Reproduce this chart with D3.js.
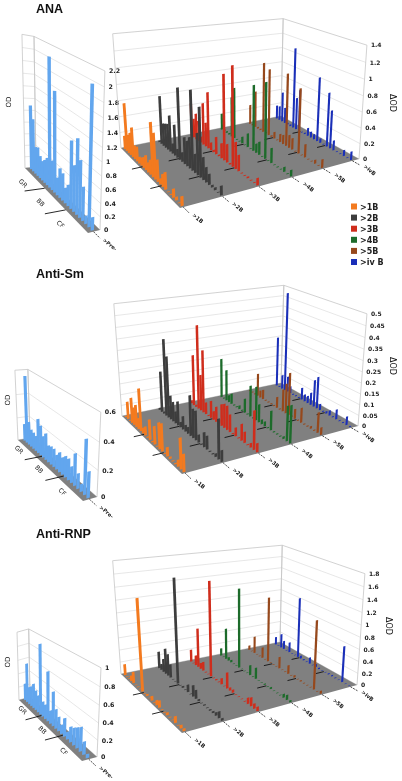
<!DOCTYPE html>
<html><head><meta charset="utf-8"><script src="https://cdn.jsdelivr.net/npm/d3@7"></script>
<style>html,body{margin:0;background:#fff}svg{display:block;filter:blur(.35px)}</style></head>
<body><svg id="c" width="402" height="781"></svg>
<script>
const seriesNames=[">1B",">2B",">3B",">4B",">5B",">ivB"];
const legendNames=[">1B",">2B",">3B",">4B",">5B",">iv B"];
const seriesColors=["#f37a1f","#3d3d3d","#cf2d1c","#1d6b2b","#96481c","#1a2fb8"];
const leftColor="#62a6ee";
const groupNames=["GR","BB","CF"];
const preName=">Pre-";

const anaTicks=[0,.2,.4,.6,.8,1,1.2,1.4];
const anaLeftTicks=[0,.2,.4,.6,.8,1,1.2,1.4,1.6,1.8,2,2.2];
const smTicks=[0,.05,.1,.15,.2,.25,.3,.35,.4,.45,.5];
const smLeftTicks=[0,.2,.4,.6];
const rnpTicks=[0,.2,.4,.6,.8,1,1.2,1.4,1.6,1.8];
const rnpLeftTicks=[0,.2,.4,.6,.8,1];

const anaPre=[1.1,.9,.46,.49,.38,.33,.39,.46,2.05,.49,1.6,.29,.48,.44,.25,.34,1.05,.72,1.15,.87,.52,.13,2.0,.2];
const ana1B=[.17,.6,.23,.28,.37,.17,.18,.08,.1,.13,.18,.12,.18,.64,.54,.26,.07,.15,.2,.01,.01,.1,.04,.01,.11];
const ana2B=[.02,.62,.29,.31,.33,.46,.13,.39,.11,.88,.12,.33,.31,.38,.95,.23,.5,.82,.27,.18,.13,.03,.03,.01,.11];
const ana3B=[.44,.25,.34,.27,.08,.54,.31,.72,.1,.03,.22,.02,.19,1.05,.23,.02,1.2,.33,.2,.01,.01,.02,.01,.01,.09];
const ana4B=[.22,.02,.02,.02,.53,.67,.01,.01,.09,.01,.18,.01,.84,.12,.17,.01,.95,.01,.19,.01,.01,.01,.06,.01,.08];
const ana5B=[.27,.02,.5,.02,.02,.94,.02,.89,.02,.09,.01,.11,.12,.94,.17,.15,.01,.83,.01,.17,.01,.01,.05,.01,.11];
const anaIvB=[.19,.2,.42,.22,.02,.02,1.1,.44,.57,.01,.02,.11,.08,.07,.85,.06,.01,.71,.5,.13,.01,.01,.08,.01,.11];

const smPre=[.15,.57,.2,.15,.14,.13,.29,.25,.18,.22,.14,.15,.15,.12,.16,.14,.17,.17,.13,.25,.12,.06,.41,.2];
const sm1B=[.005,.08,.005,.115,.08,.1,.05,.19,.025,.04,.005,.09,.005,.08,.005,.115,.12,.005,.04,.01,.005,.005,.03,.13,.075];
const sm2B=[.01,.19,.01,.35,.28,.11,.09,.055,.11,.025,.06,.03,.03,.18,.13,.13,.035,.005,.065,.06,.005,.005,.015,.17,.05];
const sm3B=[.015,.24,.01,.39,.17,.29,.055,.005,.08,.04,.07,.02,.1,.11,.11,.08,.005,.04,.005,.075,.05,.005,.02,.17,.04];
const sm4B=[.19,.005,.15,.034,.05,.005,.005,.017,.005,.067,.005,.146,.005,.157,.084,.022,.022,.005,.09,.005,.005,.005,.011,.157,.168];
const sm5B=[.005,.005,.005,.112,.035,.047,.005,.005,.005,.005,.053,.005,.106,.142,.2,.005,.047,.005,.07,.005,.005,.012,.005,.094,.035];
const smIvB=[.25,.005,.07,.484,.077,.035,.005,.005,.005,.06,.035,.035,.06,.13,.153,.03,.005,.012,.024,.005,.047,.005,.005,.041,.005];

const rnpPre=[.25,.57,.25,.29,.35,.28,.24,.96,.21,.2,.67,.18,.46,.26,.19,.12,.24,.1,.2,.22,.26,.3,.16,.05];
const rnp1B=[.18,.01,.01,.09,.18,.01,.01,.01,1.43,.01,.03,.01,.07,.01,.08,.11,.01,.01,.04,.01,.01,.1,.01,.05,.04];
const rnp2B=[.28,.1,.22,.42,.36,.22,.01,.01,1.66,.01,.03,.01,.12,.01,.18,.14,.03,.01,.02,.01,.02,.03,.05,.1,.04];
const rnp3B=[.21,.01,.17,.66,.1,.15,.01,.01,1.55,.01,.02,.01,.1,.01,.26,.05,.05,.01,.01,.01,.01,.1,.14,.08,.07];
const rnp4B=[.13,.01,.54,.06,.04,.01,.01,1.34,.01,.01,.01,.17,.01,.19,.01,.01,.02,.01,.03,.01,.01,.01,.06,.08,.03];
const rnp5B=[.08,.01,.3,.01,.01,.19,.01,1.12,.01,.01,.01,.2,.01,.01,.15,.01,.04,.01,.02,.01,.01,.01,1.12,.01,.05];
const rnpIvB=[.14,.01,.25,.15,.01,.18,.01,.01,1.06,.05,.02,.01,.11,.01,.05,.02,.01,.01,.02,.02,.01,.01,.61,.01,.01];

const svg=d3.select("#c");

function homography(A,B,C,D){
  const dx1=B[0]-C[0],dx2=D[0]-C[0],sx=A[0]-B[0]+C[0]-D[0];
  const dy1=B[1]-C[1],dy2=D[1]-C[1],sy=A[1]-B[1]+C[1]-D[1];
  const det=dx1*dy2-dx2*dy1;
  const g=(sx*dy2-dx2*sy)/det,h=(dx1*sy-sx*dy1)/det;
  const a=B[0]-A[0]+g*B[0],b=D[0]-A[0]+h*D[0],c=A[0];
  const d=B[1]-A[1]+g*B[1],e=D[1]-A[1]+h*D[1],f=A[1];
  return (u,v)=>{const w=g*u+h*v+1;return [(a*u+b*v+c),(d*u+e*v+f),w];};
}
function intersect(p,p2,q,q2){
  const a=(p2[0]-p[0])/(p2[1]-p[1]),b=(q2[0]-q[0])/(q2[1]-q[1]);
  const y=(q[0]-b*q[1]-p[0]+a*p[1])/(a-b);
  return [p[0]+a*(y-p[1]),y];
}
function makeProjector(g){
  const {A,B,C,D,At,Bt,Ct}=g;
  const V=intersect(A,At,C,Ct);
  const dist=(p,q)=>Math.hypot(p[0]-q[0],p[1]-q[1]);
  const fl=homography(A,B,C,D);
  const tauOf=(X,Xt,u,v)=>{const s=dist(X,Xt)/dist(X,V),w=fl(u,v)[2];return s*w/(1+s);};
  const tau=d3.mean([tauOf(A,At,0,0),tauOf(B,Bt,1,0),tauOf(C,Ct,1,1)]);
  return (u,v,t)=>{
    const p=fl(u,v),k=(t||0)*tau,d=p[2]-k;
    return [(p[0]-k*V[0])/d,(p[1]-k*V[1])/d];
  };
}
const poly=pts=>"M"+pts.map(p=>p[0].toFixed(2)+","+p[1].toFixed(2)).join("L")+"Z";

function drawPanel(cfg){
  const g=svg.append("g");
  const P=makeProjector(cfg.geom);
  const n=cfg.series[0].values.length;
  const vS=d3.scalePoint().domain(d3.range(n)).range(cfg.vRange);
  const uS=d3.scalePoint().domain(cfg.series.map(s=>s.name)).range(cfg.uRange);
  const tS=d3.scaleLinear().domain([0,d3.max(cfg.ticks)]).range([0,1]);
  g.selectAll("path.grid").data(cfg.ticks.slice(1,-1)).join("path").attr("class","grid")
    .attr("d",d=>{const t=tS(d),a=P(0,0,t),b=P(1,0,t),c=P(1,1,t);return `M${a}L${b}L${c}`;})
    .attr("fill","none").attr("stroke","#dcdcdc").attr("stroke-width",.7);
  g.append("path").attr("d",poly([P(0,0,0),P(0,0,1),P(1,0,1),P(1,0,0)])).attr("fill","none").attr("stroke","#c6c6c6").attr("stroke-width",.8);
  g.append("path").attr("d",poly([P(1,0,0),P(1,0,1),P(1,1,1),P(1,1,0)])).attr("fill","none").attr("stroke","#c6c6c6").attr("stroke-width",.8);
  g.append("path").attr("d",poly([P(0,0,0),P(1,0,0),P(1,1,0),P(0,1,0)])).attr("fill","#808080");
  g.selectAll("text.tick").data(cfg.ticks).join("text").attr("class","tick")
    .attr("x",d=>P(1,1,tS(d))[0]+cfg.labelDx).attr("y",d=>P(1,1,tS(d))[1]+2.2)
    .attr("font-family","DejaVu Sans").attr("font-weight","bold").attr("font-size",cfg.tickFont).attr("fill","#222")
    .text(d=>d3.format("~g")(d));
  const groupV=cfg.groupV.map(i=>{const a=vS(Math.floor(i)),b=vS(Math.ceil(i));return (a+b)/2;});
  cfg.series.forEach(s=>{
    const u=uS(s.name);
    groupV.forEach(v=>{
      const a=P(u-cfg.dashU,v,0),b=P(u+cfg.dashUEnd,v,0);
      g.append("line").attr("x1",a[0]).attr("y1",a[1]).attr("x2",b[0]).attr("y2",b[1]).attr("stroke","#111").attr("stroke-width",.9);
    });
    const f=P(u,1,0),e=P(u,cfg.leadV,0),l=P(u,cfg.labelV,0);
    g.append("line").attr("x1",f[0]).attr("y1",f[1]).attr("x2",e[0]).attr("y2",e[1]).attr("stroke","#222").attr("stroke-width",.8).attr("stroke-dasharray","2 1");
    g.append("text").attr("transform",`translate(${l[0]},${l[1]}) rotate(40)`)
      .attr("font-family","DejaVu Sans").attr("font-weight","bold").attr("font-size",cfg.catFont).attr("fill","#222").text(s.name);
  });
  if(cfg.groupLabels) groupNames.forEach((name,i)=>{
    const p=P(cfg.groupU,cfg.groupLabels[i],0);
    g.append("text").attr("transform",`translate(${p[0]},${p[1]}) rotate(45)`).attr("text-anchor","middle").attr("dy",".35em")
      .attr("font-family","DejaVu Sans").attr("font-size",6.3).attr("fill","#222").text(name);
  });
  const bars=cfg.series.flatMap(s=>s.values.map((val,i)=>({u:uS(s.name),v:vS(i),t:tS(val),color:s.color})));
  bars.sort((a,b)=>P(a.u,a.v,0)[1]-P(b.u,b.v,0)[1]);
  const du=cfg.barU;
  g.selectAll("path.bar").data(bars).join("path").attr("class","bar")
    .attr("d",d=>poly([P(d.u-du,d.v,0),P(d.u-du,d.v,d.t),P(d.u+du,d.v,d.t),P(d.u+du,d.v,0)]))
    .attr("fill",d=>d.color);
  const tt=cfg.title;
  g.append("text").attr("transform",`translate(${tt.x},${tt.y}) rotate(${tt.r})`).attr("text-anchor","middle")
    .attr("font-family","DejaVu Sans").attr("font-size",tt.size).attr("fill","#111").text(tt.text);
}
const rightOpts={uRange:[.015,.955],vRange:[.03,.985],labelDx:4,tickFont:6,catFont:5.4,groupV:[8.5,16.5],dashU:.055,dashUEnd:0,barU:.0072,leadV:1.08,labelV:1.115};
const leftOpts={uRange:[.45,.450001],vRange:[.03,.985],labelDx:4,tickFont:6.3,catFont:5.2,groupV:[7.5,15.5],dashUEnd:0,leadV:1.08,labelV:1.11};
function rightSeries(arrs){return seriesNames.map((name,i)=>({name,color:seriesColors[i],values:arrs[i]}));}
function leftSeries(v){return [{name:preName,color:leftColor,values:v}];}

drawPanel({...leftOpts,series:leftSeries(anaPre),ticks:anaLeftTicks,groupV:[8,16],dashU:2.1,dashUEnd:-.45,barU:.14,groupU:-1.25,groupLabels:[.246,.548,.845],
  geom:{A:[25,168],B:[36,167],C:[100,230],D:[88,233],At:[22,37],Bt:[33,37],Ct:[105,67]},title:{x:10.5,y:102,r:-90,text:"OD",size:7}});
drawPanel({...rightOpts,series:rightSeries([ana1B,ana2B,ana3B,ana4B,ana5B,anaIvB]),ticks:anaTicks,
  geom:{A:[121,148],B:[281,116],C:[359,159],D:[180,208],At:[113,38],Bt:[282,16],Ct:[367,44]},title:{x:390,y:103,r:90,text:"ΔOD",size:8}});

drawPanel({...leftOpts,series:leftSeries(smPre),ticks:smLeftTicks,dashU:1.35,barU:.12,groupU:-.6,groupLabels:[.168,.515,.85],
  geom:{A:[18,440],B:[30,438],C:[97,497],D:[83,501],At:[15,372],Bt:[27,371],Ct:[101,408]},title:{x:9.5,y:400,r:-90,text:"OD",size:7}});
drawPanel({...rightOpts,series:rightSeries([sm1B,sm2B,sm3B,sm4B,sm5B,smIvB]),ticks:smTicks,
  geom:{A:[122,416],B:[281,383],C:[358,426],D:[182,474],At:[114,306],Bt:[283,284],Ct:[367,313]},title:{x:390,y:366,r:90,text:"ΔOD",size:8}});

drawPanel({...leftOpts,series:leftSeries(rnpPre),ticks:rnpLeftTicks,dashU:1.35,barU:.12,groupU:-.45,groupLabels:[.18,.54,.855],
  geom:{A:[19,700],B:[30,697],C:[97,757],D:[82,761],At:[17,632],Bt:[27,629],Ct:[101,668]},title:{x:9.5,y:662,r:-90,text:"OD",size:7}});
drawPanel({...rightOpts,series:rightSeries([rnp1B,rnp2B,rnp3B,rnp4B,rnp5B,rnpIvB]),ticks:rnpTicks,
  geom:{A:[121,674],B:[280,642],C:[357,685],D:[182,733],At:[113,565],Bt:[282,543],Ct:[365,572]},title:{x:386,y:626,r:90,text:"ΔOD",size:8}});

const panelTitles=["ANA","Anti-Sm","Anti-RNP"];
const titleY=d3.scaleOrdinal().domain(panelTitles).range([13,278,538]);
svg.selectAll("text.ptitle").data(panelTitles).join("text").attr("class","ptitle")
  .attr("x",36).attr("y",d=>titleY(d)).attr("font-family","Liberation Sans").attr("font-weight","bold")
  .attr("font-size",12.5).attr("fill","#111").text(d=>d);

const legY=d3.scalePoint().domain(legendNames).range([206.5,262]);
const lg=svg.append("g");
legendNames.forEach((name,i)=>{
  lg.append("rect").attr("x",351).attr("y",legY(name)-3).attr("width",6).attr("height",6).attr("fill",seriesColors[i]);
  lg.append("text").attr("x",360).attr("y",legY(name)+3).attr("font-family","DejaVu Sans").attr("font-weight","bold")
    .attr("font-size",8).attr("fill","#222").text(name);
});
</script></body></html>
